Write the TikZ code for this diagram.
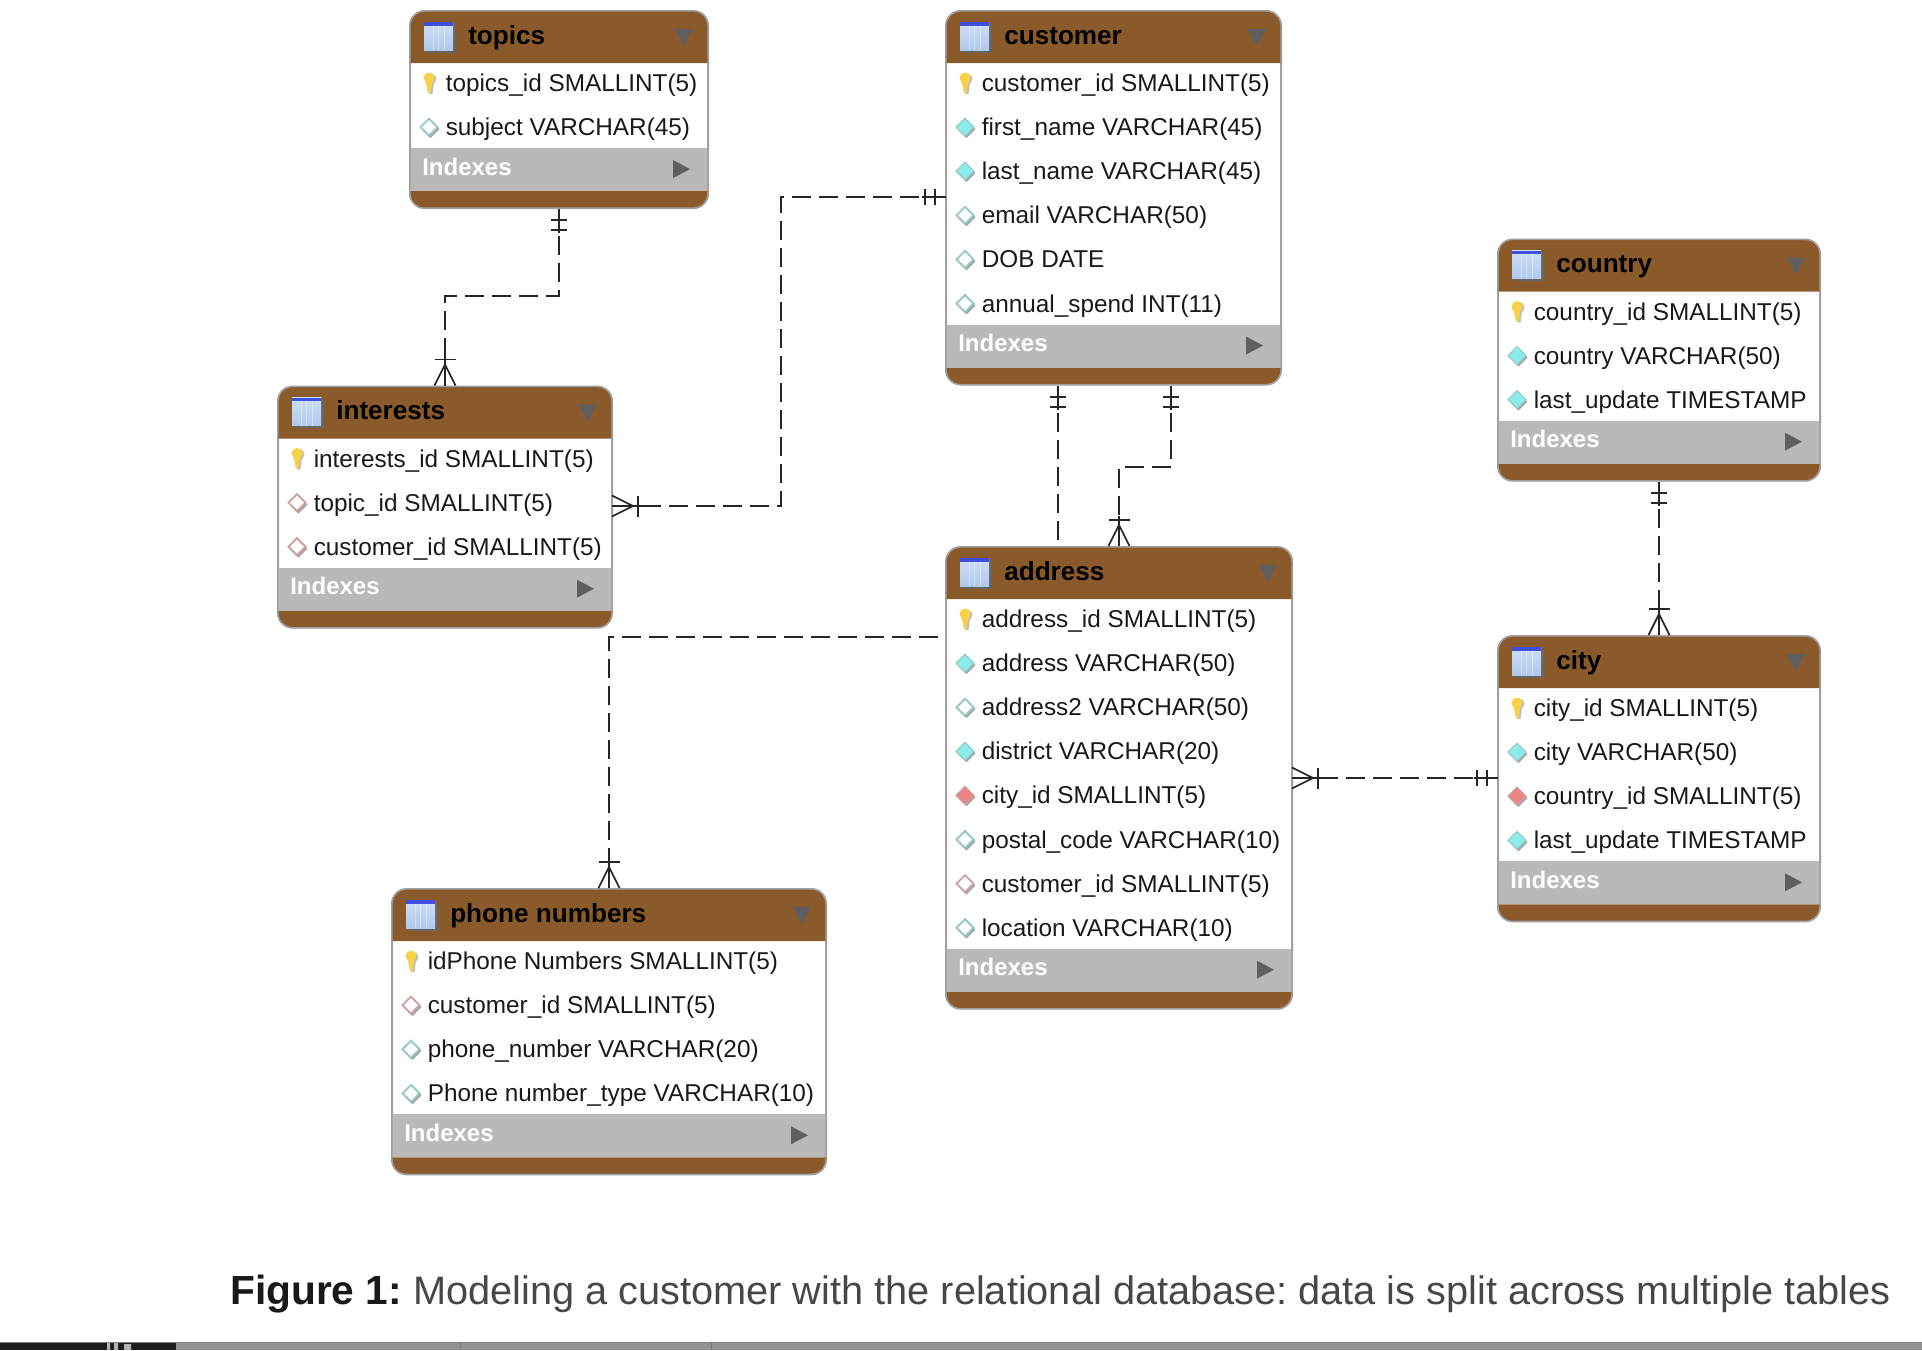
\documentclass[tikz,border=0pt]{standalone}
\usepackage{fontspec}
\setmainfont{Liberation Sans}
\usetikzlibrary{calc}
\definecolor{headbrown}{HTML}{8B5A2B}
\definecolor{bandgrey}{HTML}{B9B9B9}
\definecolor{edgegrey}{HTML}{A0A0A0}
\definecolor{arrowgrey}{HTML}{5F5F5F}
\definecolor{keygold}{HTML}{F7D247}
\definecolor{nncyan}{HTML}{8CEBEB}
\definecolor{opencyan}{HTML}{96C8C8}
\definecolor{fkred}{HTML}{E98585}
\definecolor{openred}{HTML}{CF9F9F}
\definecolor{iconblue}{HTML}{AFC9EE}
\definecolor{iconbar}{HTML}{3F4FE0}
\definecolor{barblack}{HTML}{1C1C1C}
\definecolor{bargrey}{HTML}{939393}
\tikzset{
  tablebox/.style = {draw = edgegrey, line width = 1.5, fill = white, rounded corners = 11, inner sep = 0},
  tableedge/.style = {draw = edgegrey, line width = 1, rounded corners = 11},
  titletext/.style = {anchor = base west, inner sep = 0, font = \fontsize{19.6}{22}\selectfont\bfseries},
  rowtext/.style = {anchor = base west, inner sep = 0, text = black!90, font = \fontsize{18.25}{22}\selectfont},
  indextext/.style = {anchor = base west, inner sep = 0, text = white, font = \fontsize{18}{22}\selectfont\bfseries},
  relline/.style = {line width = 1.3, draw = black!85, dash pattern = on 14.25pt off 6pt},
  tipline/.style = {line width = 1.3, draw = black!85},
  % one-and-only-one end, x runs away from the table
  onetip/.pic = {
    \draw[tipline] (2, 0) -- (24, 0);
    \draw[tipline] (11, -8) -- (11, 8);
    \draw[tipline] (21, -8) -- (21, 8);
  },
  % crow's foot end
  manytip/.pic = {
    \draw[tipline] (0, -10.5) -- (21, 0) -- (0, 10.5);
    \draw[tipline] (0, 0) -- (30, 0);
    \draw[tipline] (26, -10.5) -- (26, 10.5);
  },
  keyicon/.pic = {
    \fill[black!25] (2, -4) circle(5.5) (-1, 0) -- (5, 0) -- (3.5, 11) -- (0.5, 11) -- cycle;
    \fill[keygold] (0, -5) circle(5.5) (-3.5, -2) -- (3.5, -2) -- (1.5, 10) -- (-1, 10) -- cycle;
  },
  nnicon/.pic = {
    \fill[black!35] (1.5, -7.5) -- (10.5, 2) -- (1.5, 11) -- (-7.5, 2) -- cycle;
    \draw[opencyan, fill = nncyan, line width = 0.8] (0, -9) -- (9, 0) -- (0, 9) -- (-9, 0) -- cycle;
  },
  openicon/.pic = {
    \fill[black!35] (1.5, -7.5) -- (10.5, 2) -- (1.5, 11) -- (-7.5, 2) -- cycle;
    \draw[opencyan, fill = white, line width = 1.4] (0, -8.5) -- (8.5, 0) -- (0, 8.5) -- (-8.5, 0) -- cycle;
  },
  fkicon/.pic = {
    \fill[black!35] (1.5, -7.5) -- (10.5, 2) -- (1.5, 11) -- (-7.5, 2) -- cycle;
    \draw[openred, fill = fkred, line width = 0.8] (0, -9) -- (9, 0) -- (0, 9) -- (-9, 0) -- cycle;
  },
  fkopenicon/.pic = {
    \fill[black!35] (1.5, -7.5) -- (10.5, 2) -- (1.5, 11) -- (-7.5, 2) -- cycle;
    \draw[openred, fill = white, line width = 1.4] (0, -8.5) -- (8.5, 0) -- (0, 8.5) -- (-8.5, 0) -- cycle;
  },
  gridicon/.pic = {
    \fill[black!60] (2.5, 2.5) rectangle (31.5, 30.5);
    \shade[top color = iconblue!60!white, bottom color = iconblue] (0, 0) rectangle (29, 28);
    \fill[iconbar] (0, 0) rectangle (29, 3.5);
    \foreach \u in {9, 14.5, 20}
      \draw[white, opacity = 0.35, line width = 0.6] (\u, 3.5) -- (\u, 28);
  }
}
\begin{document}
\begin{tikzpicture}[x = 0.75pt, y = -0.75pt]
\useasboundingbox (0, 0) rectangle (1922, 1350);
% id / title / left / top / right / rows
\foreach \id/\title/\L/\T/\R/\rows in{
    topics/topics/410/11/708/{keyicon/topics\_id SMALLINT(5), openicon/subject VARCHAR(45)},
    customer/customer/946/11/1281/{keyicon/customer\_id SMALLINT(5), nnicon/first\_name VARCHAR(45), nnicon/last\_name VARCHAR(45), openicon/email VARCHAR(50), openicon/DOB DATE, openicon/annual\_spend INT(11)},
    country/country/1498/239.5/1820/{keyicon/country\_id SMALLINT(5), nnicon/country VARCHAR(50), nnicon/last\_update TIMESTAMP},
    interests/interests/278/386.5/612/{keyicon/interests\_id SMALLINT(5), fkopenicon/topic\_id SMALLINT(5), fkopenicon/customer\_id SMALLINT(5)},
    address/address/946/547/1292/{keyicon/address\_id SMALLINT(5), nnicon/address VARCHAR(50), openicon/address2 VARCHAR(50), nnicon/district VARCHAR(20), fkicon/city\_id SMALLINT(5), openicon/postal\_code VARCHAR(10), fkopenicon/customer\_id SMALLINT(5), openicon/location VARCHAR(10)},
    city/city/1498/636/1820/{keyicon/city\_id SMALLINT(5), nnicon/city VARCHAR(50), fkicon/country\_id SMALLINT(5), nnicon/last\_update TIMESTAMP},
    phone/phone numbers/392/889/826/{keyicon/idPhone Numbers SMALLINT(5), fkopenicon/customer\_id SMALLINT(5), openicon/phone\_number VARCHAR(20), openicon/Phone number\_type VARCHAR(10)}}
{
    % band and foot follow from the number of rows
    \def\n{0}
    \foreach \k/\t in \rows {\global\let\n\n \pgfmathparse{int(\n + 1)}\global\let\n\pgfmathresult}
    \pgfmathsetmacro{\H}{\T + 52}
    \pgfmathsetmacro{\B}{\H + 20 + 44.1 * (\n - 1) + 21}
    \pgfmathsetmacro{\E}{\B + 43 + 17}
    \pgfmathsetmacro{\wide}{(\R - \L) * 0.75pt}
    \pgfmathsetmacro{\high}{(\E - \T) * 0.75pt}
    \node[tablebox, minimum width = \wide pt, minimum height = \high pt] (\id) at ({(\L + \R) / 2}, {(\T + \E) / 2}) {};
    \fill[headbrown] (\L, \H) [rounded corners = 11] -- (\L, \T) -- (\R, \T) [sharp corners] -- (\R, \H) -- cycle;
    \fill[headbrown] (\L, \B + 43) [rounded corners = 11] -- (\L, \E) -- (\R, \E) [sharp corners] -- (\R, \B + 43) -- cycle;
    \fill[bandgrey] (\L, \B) rectangle (\R, \B + 43);
    \draw[tableedge] (\L, \T) rectangle (\R, \E);
    \pic at (\L + 14, \T + 11) {gridicon};
    \node[titletext] (\id-title) at (\L + 58, \T + 33) {\title};
    \fill[arrowgrey] (\R - 34, \T + 18) -- (\R - 15, \T + 18) -- (\R - 24.5, \T + 35) -- cycle;
    \node[indextext] (\id-indexes) at (\L + 12, \B + 27) {Indexes};
    \fill[arrowgrey] (\R - 35, \B + 12) -- (\R - 18, \B + 21) -- (\R - 35, \B + 30) -- cycle;
    \foreach \kind/\txt [count = \i from 0] in \rows{
        \pic at (\L + 19, \H + 20 + 44.1 * \i) {\kind};
        \node[rowtext] (\id-row\i) at (\L + 35.5, \H + 28.5 + 44.1 * \i) {\txt};
    }
}
% named ends that do not sit on a mid point
\coordinate (customerleft) at (946, 197);
\coordinate (interestsright) at (612, 506);
\coordinate (customerbottoma) at (1058, 386);
\coordinate (customerbottomb) at (1171, 386);
\coordinate (addressleft) at (938, 637);
\coordinate (addressright) at (1292, 778);
\coordinate (cityleft) at (1498, 778);
\draw[relline] (topics.south) -- ++(0, 87) -| (interests.north);
\draw[relline] (customerleft) -- (781, 197) -- (781, 506) -- (interestsright);
\draw[relline] (customerbottoma) -- (customerbottoma |- address.north);
\draw[relline] (customerbottomb) -- ++(0, 81) -| (address.north);
\draw[relline] (addressleft) -| (phone.north);
\draw[relline] (country.south) -- (city.north);
\draw[relline] (addressright) -- (cityleft);
\pic[rotate = -90] at (topics.south) {onetip};
\pic[rotate = 90] at (interests.north) {manytip};
\pic at (interestsright) {manytip};
\pic[rotate = 180] at (customerleft) {onetip};
\pic[rotate = -90] at (customerbottoma) {onetip};
\pic[rotate = -90] at (customerbottomb) {onetip};
\pic[rotate = 90] at (address.north) {manytip};
\pic[rotate = 90] at (phone.north) {manytip};
\pic[rotate = -90] at (country.south) {onetip};
\pic[rotate = 90] at (city.north) {manytip};
\pic at (addressright) {manytip};
\pic[rotate = 180] at (cityleft) {onetip};
\node[anchor = base west, inner sep = 0, text = black!72, font = \frenchspacing\fontsize{29.8}{34}\selectfont] (caption) at (230, 1304)
    {{\color{black!90}\fontsize{30.5}{34}\selectfont\bfseries Figure 1:} Modeling a customer with the relational database: data is split across multiple tables};
% strip along the bottom edge
\fill[bargrey] (0, 1342) rectangle (1922, 1350);
\fill[barblack] (0, 1342) rectangle (176, 1350);
\draw[black!50, line width = 0.6] (0, 1342) -- (1922, 1342);
\fill[black!30] (107, 1343) rectangle (110, 1350) (114, 1343) rectangle (118, 1350) (124, 1344) rectangle (131, 1350);
\foreach \x in{460, 711}
    \draw[black!55, line width = 0.6] (\x, 1342) -- (\x, 1350);
\end{tikzpicture}
\end{document}
